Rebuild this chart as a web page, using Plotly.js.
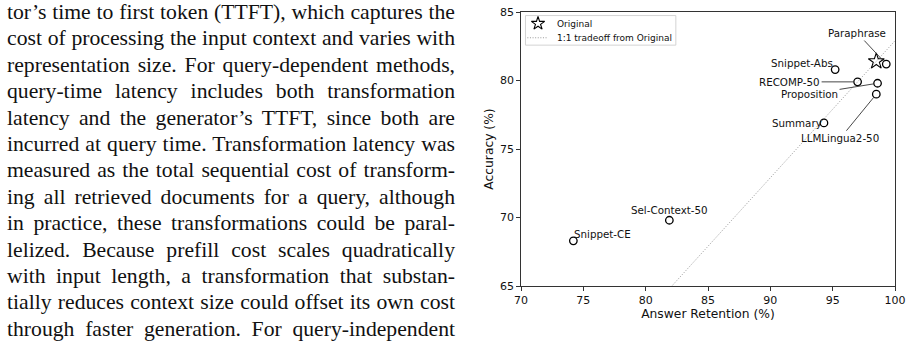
<!DOCTYPE html>
<html>
<head>
<meta charset="utf-8">
<script src="https://cdn.plot.ly/plotly-3.0.1.min.js"></script>
<style>
  html, body { margin: 0; padding: 0; background: #fff; }
  #wrap { position: relative; width: 912px; height: 349px; overflow: hidden; }
  #chart { position: absolute; left: 0; top: 0; width: 912px; height: 349px; }
  #txt { position: absolute; left: 7px; top: -1px; width: 448px;
         font-family: 'Liberation Serif', 'Times New Roman', serif;
         font-size: 21.7px; line-height: 26.4px; color: #111; z-index: 2; }
  #txt .ln { white-space: nowrap; height: 26.4px; }
</style>
</head>
<body>
<div id="wrap">
  <div id="chart"></div>
  <div id="txt"></div>
</div>
<script>
// ---- Paragraph text (left part of the reference) ----
const paragraphLines = [
  "tor’s time to first token (TTFT), which captures the",
  "cost of processing the input context and varies with",
  "representation size. For query-dependent methods,",
  "query-time latency includes both transformation",
  "latency and the generator’s TTFT, since both are",
  "incurred at query time. Transformation latency was",
  "measured as the total sequential cost of transform-",
  "ing all retrieved documents for a query, although",
  "in practice, these transformations could be paral-",
  "lelized. Because prefill cost scales quadratically",
  "with input length, a transformation that substan-",
  "tially reduces context size could offset its own cost",
  "through faster generation. For query-independent"
];

// ---- Chart data ----
const methods   = ["Paraphrase", "Snippet-Abs", "RECOMP-50", "Proposition", "LLMLingua2-50", "Summary", "Sel-Context-50", "Snippet-CE"];
const retention = [99.3, 95.2, 97.0, 98.6, 98.5, 94.3, 81.9, 74.2];
const accuracy  = [81.2, 80.8, 79.9, 79.8, 79.0, 76.9, 69.8, 68.3];
const originalRetention = [98.5];
const originalAccuracy  = [81.4];
const xTicks = [70, 75, 80, 85, 90, 95, 100];
const yTicks = [65, 70, 75, 80, 85];
const legendNames = ["Original", "1:1 tradeoff from Original"];

// label placement (pixel offsets of label centre from its point)
const labelPlacement = {
  "Paraphrase":     {arrow: true,  dx: -29, dy: -31},
  "Snippet-Abs":    {arrow: false, dx: -33, dy: -7},
  "RECOMP-50":      {arrow: true,  dx: -68, dy: 0},
  "Proposition":    {arrow: true,  dx: -68, dy: 11},
  "LLMLingua2-50":  {arrow: true,  dx: -36, dy: 44},
  "Summary":        {arrow: false, dx: -27, dy: 0},
  "Sel-Context-50": {arrow: false, dx: 0,   dy: -10},
  "Snippet-CE":     {arrow: false, dx: 29,  dy: -7}
};

// build paragraph
const txt = document.getElementById('txt');
paragraphLines.forEach(l => {
  const d = document.createElement('div');
  d.className = 'ln';
  const s = document.createElement('span');
  s.textContent = l;
  d.appendChild(s);
  txt.appendChild(d);
});
function justify() {
  const W = 448;
  txt.querySelectorAll('.ln span').forEach(s => {
    s.style.wordSpacing = '0px';
    const w = s.getBoundingClientRect().width;
    const n = (s.textContent.match(/ /g) || []).length;
    if (n > 0) s.style.wordSpacing = ((W - w) / n) + 'px';
  });
}
justify();
if (document.fonts && document.fonts.ready) document.fonts.ready.then(justify);

// 1:1 tradeoff line from Original (slope 1 through the Original point)
const off = originalRetention[0] - originalAccuracy[0];
const lineX = [70, 100];
const lineY = lineX.map(v => v - off);

const FONT = 'DejaVu Sans, sans-serif';
const DOT = '1px,1.6px';

const traces = [
  {
    x: lineX, y: lineY, mode: 'lines', name: legendNames[1], showlegend: false,
    line: {color: '#8f8f8f', width: 0.9, dash: DOT}, hoverinfo: 'skip'
  },
  {
    x: originalRetention, y: originalAccuracy, mode: 'markers', name: legendNames[0], showlegend: false,
    marker: {symbol: 'star-open', size: 12, color: '#000', line: {color: '#000', width: 1.1}}
  },
  {
    x: retention, y: accuracy, mode: 'markers', name: 'methods', showlegend: false,
    marker: {symbol: 'circle-open', size: 7.5, color: '#000', line: {color: '#000', width: 1.3}}
  },
  // legend sample symbol, on a hidden 0..1 overlay axis (same frame as the plot area)
  {
    x: [0.0455], y: [0.958], xaxis: 'x2', yaxis: 'y2', mode: 'markers',
    showlegend: false, hoverinfo: 'skip',
    marker: {symbol: 'star-open', size: 10, color: '#000', line: {color: '#000', width: 1.1}}
  }
];

const annotations = methods.map((m, i) => {
  const p = labelPlacement[m];
  const a = {
    x: retention[i], y: accuracy[i], xref: 'x', yref: 'y', text: m,
    font: {family: FONT, size: 10.3, color: '#111'}
  };
  if (p.arrow) {
    Object.assign(a, {showarrow: true, ax: p.dx, ay: p.dy, arrowhead: 0,
      arrowwidth: 0.9, arrowcolor: '#333', standoff: 4, startstandoff: 0});
  } else {
    Object.assign(a, {showarrow: false, xshift: p.dx, yshift: -p.dy});
  }
  return a;
});
// legend texts
annotations.push(
  {xref: 'paper', yref: 'paper', x: 0.091, y: 0.958, xanchor: 'left', yanchor: 'middle',
   text: legendNames[0], showarrow: false, font: {family: FONT, size: 9, color: '#111'}},
  {xref: 'paper', yref: 'paper', x: 0.091, y: 0.906, xanchor: 'left', yanchor: 'middle',
   text: legendNames[1], showarrow: false, font: {family: FONT, size: 9, color: '#111'}}
);

const shapes = [
  // legend frame
  {type: 'rect', xref: 'paper', yref: 'paper', x0: 0.012, x1: 0.414, y0: 0.879, y1: 0.987,
   line: {color: '#cfcfcf', width: 0.9}, fillcolor: '#fff', layer: 'below'},
  // legend line sample
  {type: 'line', xref: 'paper', yref: 'paper', x0: 0.017, x1: 0.07, y0: 0.906, y1: 0.906,
   line: {color: '#8f8f8f', width: 0.9, dash: DOT}}
];

const axisCommon = {
  showgrid: false, zeroline: false, showline: true, mirror: true,
  linecolor: '#333', linewidth: 1.4,
  ticks: 'outside', ticklen: 3.5, tickwidth: 1, tickcolor: '#333',
  tickfont: {family: FONT, size: 11, color: '#111'}
};

const layout = {
  width: 912, height: 349,
  margin: {l: 521, r: 17, t: 12, b: 63},
  paper_bgcolor: 'rgba(0,0,0,0)', plot_bgcolor: '#fff',
  showlegend: false,
  xaxis: Object.assign({}, axisCommon, {
    range: [70, 100], tickvals: xTicks, ticktext: xTicks.map(String),
    title: {text: 'Answer Retention (%)', font: {family: FONT, size: 12.3, color: '#111'}, standoff: 2}
  }),
  yaxis: Object.assign({}, axisCommon, {
    range: [65, 85], tickvals: yTicks, ticktext: yTicks.map(String),
    title: {text: 'Accuracy (%)', font: {family: FONT, size: 12.3, color: '#111'}, standoff: 3}
  }),
  xaxis2: {overlaying: 'x', range: [0, 1], visible: false, fixedrange: true},
  yaxis2: {overlaying: 'y', range: [0, 1], visible: false, fixedrange: true},
  shapes: shapes,
  annotations: annotations
};

Plotly.newPlot('chart', traces, layout, {displayModeBar: false, staticPlot: true});
</script>
</body>
</html>
